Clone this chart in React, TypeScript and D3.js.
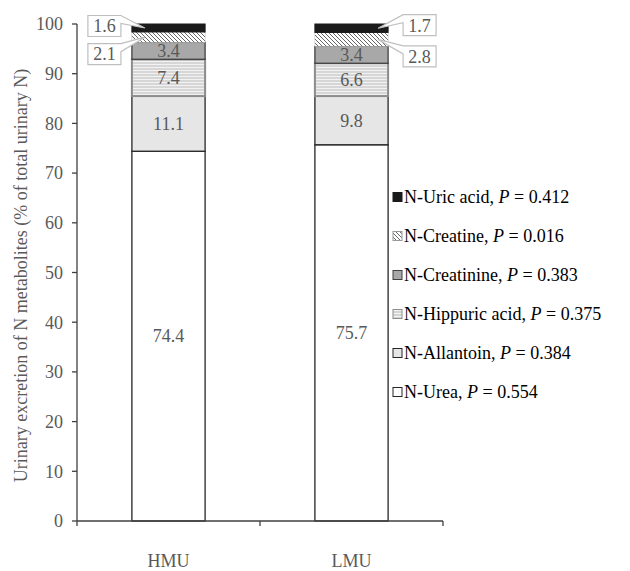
import React from 'react';
import * as d3 from 'd3';

const groups = ['HMU', 'LMU'];
const components = ['N-Urea', 'N-Allantoin', 'N-Hippuric acid', 'N-Creatinine', 'N-Creatine', 'N-Uric acid'];
const hmuValues = [74.4, 11.1, 7.4, 3.4, 2.1, 1.6];
const lmuValues = [75.7, 9.8, 6.6, 3.4, 2.8, 1.7];
const pValues = ['0.554', '0.384', '0.375', '0.383', '0.016', '0.412'];
const yTicks = [0, 10, 20, 30, 40, 50, 60, 70, 80, 90, 100];

const width = 630;
const height = 571;
const left = 77;
const right = 443;
const top = 24;
const bottom = 521;
const font = "'Liberation Serif', serif";
const grey = '#595959';

const fills = ['#ffffff', '#e6e6e6', 'url(#stripes)', '#a8a8a8', 'url(#hatch)', '#1a1a1a'];
const strokes = ['#262626', '#262626', '#8c8c8c', '#404040', '#bfbfbf', '#1a1a1a'];
const strokeWidths = [1.3, 1.3, 2, 1.3, 0.5, 1];

export default function App() {
  const x = d3.scalePoint<string>().domain(groups).range([left, right]).padding(0.5);
  const step = x.step();
  const barW = step * 0.4;
  const y = d3.scaleLinear().domain([0, 100]).range([bottom, top]);

  const rows = groups.map((g, i) => {
    const vals = i === 0 ? hmuValues : lmuValues;
    const r: any = { group: g };
    components.forEach((c, j) => (r[c] = vals[j]));
    return r;
  });
  const stack = d3.stack<any>().keys(components)(rows);

  // callout labels for the two thin top segments
  const callouts: { g: number; k: number; dy: number }[] = [
    { g: 0, k: 5, dy: -2 },
    { g: 0, k: 4, dy: 17 },
    { g: 1, k: 5, dy: -3 },
    { g: 1, k: 4, dy: 17 },
  ];

  const legendY = d3.scalePoint<string>().domain([...components].reverse()).range([197, 392]);

  return (
    <svg
      width={width}
      height={height}
      style={{ position: 'absolute', left: 0, top: 0, background: '#fff', fontFamily: font }}
    >
      <defs>
        <pattern id="stripes" patternUnits="userSpaceOnUse" width={6} height={3}>
          <rect width={6} height={3} fill="#d6d6d6" />
          <line x1={0} x2={6} y1={1.5} y2={1.5} stroke="#f2f2f2" strokeWidth={1} />
        </pattern>
        <pattern id="hatch" patternUnits="userSpaceOnUse" width={4} height={4}>
          <rect width={4} height={4} fill="#ffffff" />
          <path d="M-1,-1 L5,5 M-1,3 L1,5 M3,-1 L5,1" stroke="#555" strokeWidth={0.9} />
        </pattern>
      </defs>

      {/* y axis */}
      <line x1={left} x2={left} y1={y(100)} y2={y(0)} stroke="#404040" strokeWidth={1.3} />
      {yTicks.map(t => (
        <g key={t}>
          <line x1={left - 5} x2={left} y1={y(t)} y2={y(t)} stroke="#404040" strokeWidth={1.3} />
          <text x={left - 14} y={y(t)} dy="0.35em" textAnchor="end" style={{ fontFamily: font }} fontSize={18} fill={grey}>
            {t}
          </text>
        </g>
      ))}
      <text
        transform={`translate(21,${(y(0) + y(100)) / 2 + 3}) rotate(-90)`}
        textAnchor="middle"
        dy="0.35em"
        style={{ fontFamily: font }}
        fontSize={18}
        fill={grey}
      >
        Urinary excretion of N metabolites (% of total urinary N)
      </text>

      {/* bars */}
      {stack.map((layer, k) =>
        layer.map((d, gi) => {
          const cx = x(groups[gi])!;
          return (
            <rect
              key={`${k}-${gi}`}
              x={cx - barW / 2}
              y={y(d[1])}
              width={barW}
              height={y(d[0]) - y(d[1])}
              fill={fills[k]}
              stroke={strokes[k]}
              strokeWidth={strokeWidths[k]}
            />
          );
        })
      )}

      {/* x axis */}
      <line x1={left} x2={right} y1={bottom} y2={bottom} stroke="#404040" strokeWidth={1.3} />
      {[left, left + step, right].map((tx, i) => (
        <line key={i} x1={tx} x2={tx} y1={bottom} y2={bottom + 5} stroke="#404040" strokeWidth={1.3} />
      ))}
      {groups.map(g => (
        <text key={g} x={x(g)} y={bottom + 46} textAnchor="middle" style={{ fontFamily: font }} fontSize={18} fill={grey}>
          {g}
        </text>
      ))}

      {/* inside value labels */}
      {stack.slice(0, 4).map((layer, k) =>
        layer.map((d, gi) => (
          <text
            key={`l${k}-${gi}`}
            x={x(groups[gi])}
            y={(y(d[0]) + y(d[1])) / 2}
            dy="0.35em"
            textAnchor="middle"
            style={{ fontFamily: font }}
            fontSize={18}
            fill={grey}
          >
            {(d[1] - d[0]).toFixed(1)}
          </text>
        ))
      )}

      {/* callout labels */}
      {callouts.map((c, i) => {
        const d = stack[c.k][c.g];
        const cx = x(groups[c.g])!;
        const segY = (y(d[0]) + y(d[1])) / 2;
        const bw = 33;
        const bh = 21;
        const cy = segY + c.dy;
        const onLeft = c.g === 0;
        const bx = onLeft ? cx - barW / 2 - 11 - bw : cx + barW / 2 + 15;
        const tx = onLeft ? cx - barW / 2 + 13 : cx + barW / 2 - 10;
        const ty = segY;
        const t0 = cy - bh / 2;
        const t1 = cy + bh / 2;
        const path = onLeft
          ? `M${bx},${t0} L${bx + bw},${t0} L${tx},${ty} L${bx + bw},${t0 + 8} L${bx + bw},${t1} L${bx},${t1} Z`
          : `M${bx},${t0} L${bx + bw},${t0} L${bx + bw},${t1} L${bx},${t1} L${bx},${t0 + 8} L${tx},${ty} Z`;
        return (
          <g key={`c${i}`}>
            <path d={path} fill="#fff" stroke="#bfbfbf" strokeWidth={1.2} />
            <text x={bx + bw / 2} y={cy} dy="0.35em" textAnchor="middle" style={{ fontFamily: font }} fontSize={18} fill={grey}>
              {(d[1] - d[0]).toFixed(1)}
            </text>
          </g>
        );
      })}

      {/* legend */}
      {components.map((c, k) => {
        const ly = legendY(c)!;
        return (
          <g key={c}>
            <rect x={393} y={ly - 4.5} width={9} height={9} fill={fills[k]} stroke={k === 4 ? '#999' : strokes[k]} strokeWidth={1} />
            <text x={404} y={ly} dy="0.35em" style={{ fontFamily: font }} fontSize={18} fill="#000">
              {c}, <tspan fontStyle="italic">P</tspan> = {pValues[k]}
            </text>
          </g>
        );
      })}
    </svg>
  );
}
